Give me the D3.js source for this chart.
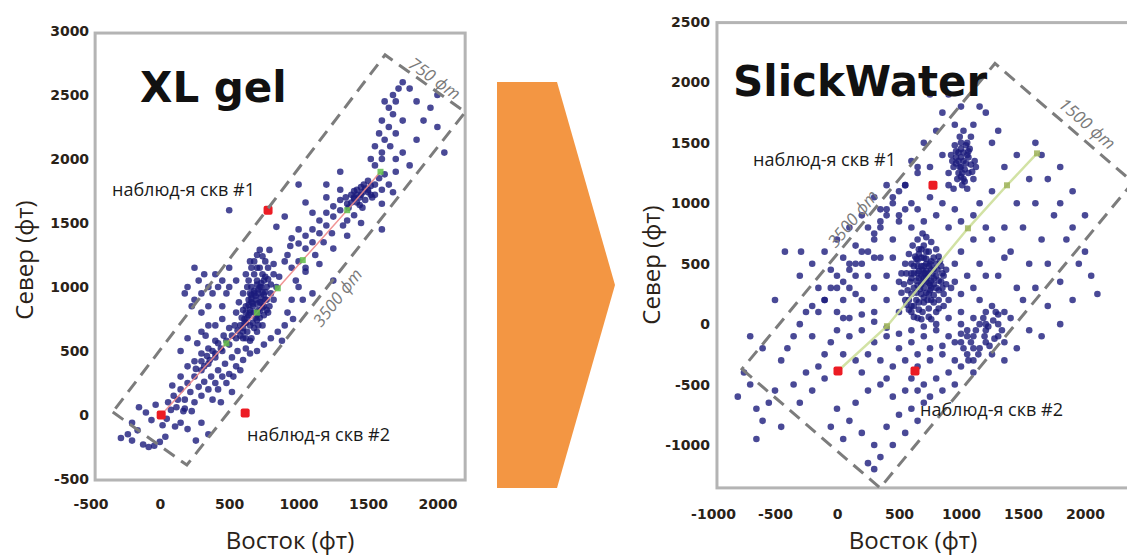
<!DOCTYPE html>
<html><head><meta charset="utf-8">
<script src="https://cdn.jsdelivr.net/npm/d3@7"></script>
<style>html,body{margin:0;padding:0;background:#fff;overflow:hidden}</style>
</head><body><svg id="c" width="1127" height="555"></svg>
<script>
// ---------- data ----------
const xlTicksX = [-500, 0, 500, 1000, 1500, 2000];
const xlTicksY = [-500, 0, 500, 1000, 1500, 2000, 2500, 3000];
const swTicksX = [-1000, -500, 0, 500, 1000, 1500, 2000];
const swTicksY = [-1000, -500, 0, 500, 1000, 1500, 2000, 2500];

const xlEvents = [
[-280,-180],[-230,-150],[-200,-200],[-160,-120],[-120,-230],[-80,-250],[-40,-240],[0,-210],[40,-170],[-150,60],[-100,20],[-60,-40],[-30,80],[20,-80],[50,-30],[80,40],[110,-90],[150,-60],[170,30],[-200,-60],[130,120],[200,-110],[260,-200],[300,-60],[350,-150],
[100,150],[150,200],[180,120],[200,250],[220,180],[250,300],[280,220],[300,350],[320,260],[350,400],[370,300],[400,450],[420,350],[450,500],[470,400],[500,550],[520,450],[550,600],[560,500],[600,650],[150,300],[200,380],[250,420],[300,480],[350,520],[400,580],[120,60],[180,50],[250,100],[300,150],[350,200],[400,250],[450,300],[500,320],[550,380],[600,430],[620,520],[650,580],[380,120],[420,200],[480,250],[530,300],[580,350],[270,560],[330,620],[60,100],[90,230],[230,30],[440,100],[520,180],
[650,800],[670,850],[690,900],[710,950],[730,1000],[750,1050],[770,900],[790,850],[710,820],[730,880],[750,940],[770,1000],[690,760],[650,700],[630,650],[670,720],[710,700],[750,780],[800,950],[820,1100],[780,1150],[740,1100],[700,1050],[660,1000],[640,900],[620,850],[610,750],[600,680],[580,620],[620,600],[660,600],[700,650],[740,700],[780,800],[820,900],[840,1000],[860,1080],[820,1180],[760,1200],[720,1150],[680,1100],[640,1050],[600,950],[570,880],[680,950],[720,1000],[750,850],[770,820],[700,780],[730,920],[640,780],[660,880],[700,870],[740,960],[680,680],[720,760],[760,1080],[800,1020],[620,720],[660,940],
[610,720],[630,760],[650,820],[670,870],[690,930],[710,980],[730,1030],[620,800],[640,860],[660,910],[680,970],[700,1020],[720,880],[740,840],[760,900],[700,740],[680,800],[720,810],[650,950],[630,1000],[600,820],[590,760],[760,960],[780,1060],[700,1150],[740,1240],[680,1200],[660,1150],[790,1290],[720,1290],
[600,600],[580,700],[550,800],[620,1100],[650,1200],[700,1250],[900,1200],[950,1150],[980,1050],[950,900],[920,800],[900,700],[850,650],[800,600],[750,550],[700,500],[650,480],[1000,1000],[1030,900],[960,750],[880,580],[920,1250],[1000,1200],[940,1320],[1050,1150],
[250,900],[300,950],[350,1000],[280,1050],[320,1100],[380,950],[420,1000],[450,1050],[200,1000],[250,1150],[400,1100],[480,950],[350,850],[300,800],[450,850],[500,1000],[230,850],[180,950],[550,1050],[500,1150],[400,700],[300,650],[200,600],[450,750],[150,500],[350,700],
[320,380],[360,430],[400,480],[440,520],[480,580],[520,620],[560,660],[380,500],[420,560],[460,620],[500,680],[540,700],[340,460],[300,420],[260,360],
[1050,1300],[1100,1350],[1150,1420],[1200,1480],[1250,1550],[1300,1600],[1350,1650],[1400,1700],[1450,1720],[1500,1760],[1550,1800],[1420,1760],[1480,1680],[1520,1720],[1380,1720],[1450,1780],[1500,1830],[1550,1720],[1600,1760],[1350,1520],[1300,1680],[1250,1630],[1200,1580],[1150,1520],[1100,1450],[1050,1400],[1000,1340],[1120,1250],[1180,1350],[1240,1420],[1320,1480],[1400,1560],[1460,1620],[1580,1850],[1620,1880],[1250,1300],[1350,1400],[1000,1450],[1100,1580],[950,1380],[1050,1120],[1150,1180],[1200,1700],[1300,1760],[1600,1650],[1680,1740],[1450,1500],
[1380,1660],[1400,1690],[1420,1720],[1440,1700],[1460,1740],[1480,1770],[1500,1740],[1520,1790],[1470,1800],[1420,1660],[1360,1620],[1530,1700],[1400,1750],[1340,1700],[1440,1640],
[1550,1950],[1600,2050],[1620,2150],[1650,2250],[1680,2350],[1700,2450],[1720,2550],[1750,2600],[1600,2300],[1580,2200],[1550,2100],[1650,2400],[1700,2200],[1750,2300],[1680,2500],[1620,2450],[1800,2550],[1520,2000],[1600,2000],[1660,2100],[1850,2450],[1900,2300],[1950,2400],[2000,2250],[1850,2150],[1750,2050],[1800,1950],[1700,1900],[1650,1800],[2050,2050],
[500,1600],[1000,1800],[900,1550],[1200,1800],[1250,1050],[1100,950],[1600,1450],[1700,2000],[2000,2500],[1300,1900],[1050,1660],[840,1470]
];

const swEvents = [
[700,300],[720,350],[680,250],[650,320],[750,280],[730,400],[690,450],[660,380],[620,300],[600,250],[640,200],[700,180],[760,200],[800,300],[780,380],[760,450],[720,500],[680,550],[650,480],[620,420],[590,350],[570,280],[600,150],[660,120],[740,130],[820,200],[840,350],[810,450],[780,550],[740,600],[700,650],[660,620],[630,560],[600,500],[560,420],[540,330],[700,380],[720,260],[680,330],[740,340],[710,420],[670,290],[760,360],[640,260],[780,240],[820,280],[860,250],[880,330],[850,420],[830,520],[800,620],[760,680],[720,720],[690,750],[650,700],[610,650],[580,580],[550,500],[520,420],[500,350],[520,260],[550,200],[580,120],[620,60],[680,40],[740,60],[800,100],[860,150],[900,200],[920,300],[700,550],[750,500],[650,420],[600,380],[720,600],[770,420],[730,200],[690,100],[650,50],[760,40],
[600,420],[620,480],[640,540],[660,580],[680,620],[700,480],[720,440],[740,480],[760,520],[780,460],[800,400],[820,360],[640,360],[660,440],[680,400],[700,420],[720,380],[740,420],[760,300],[780,330],[800,500],[820,560],[840,480],[860,400],[880,450],[580,200],[620,150],[660,180],[700,220],[740,250],[780,180],[820,130],[560,160],[600,100],[850,300],[680,480],[720,540],[650,530],[690,350],[750,320],
[1000,1300],[980,1250],[1020,1350],[1050,1400],[1000,1450],[960,1380],[940,1300],[970,1200],[1020,1200],[1060,1250],[1080,1320],[1040,1480],[990,1550],[950,1480],[920,1400],[900,1250],[1010,1150],[1050,1120],[1100,1200],[1120,1300],[980,1350],[1030,1280],[1000,1220],[960,1430],[1060,1430],[900,1150],[940,1120],[1080,1550],[1020,1600],[950,1650],
[1000,1380],[1020,1420],[990,1300],[1040,1330],[1060,1380],[1070,1450],[1010,1250],[960,1330],[1030,1180],[1090,1260],[1000,1500],[980,1420],[1050,1500],[1110,1350],[930,1350],
[100,-100],[200,-50],[300,-150],[400,-100],[500,-200],[600,-150],[700,-100],[800,-50],[900,-100],[1000,-150],[1100,-100],[1200,-50],[1300,-100],[1000,0],[1100,50],[1200,100],[1150,-200],[1050,-250],[950,-300],[850,-250],[750,-300],[650,-350],[550,-300],[450,-350],[350,-300],[250,-250],[150,-300],[50,-250],[200,-400],[400,-450],[600,-450],[700,-500],[800,-450],[900,-400],[1000,-350],[1100,-300],[1250,-250],[1300,0],[1350,100],[1400,50],[1250,150],[1150,200],[1000,100],[900,50],[800,0],[700,-20],[600,-50],[500,-80],[400,-30],[300,20],[200,80],[100,50],[0,-50],[-50,-150],[-100,-250],[1200,-150],[1100,-400],[950,-500],[850,-550],[750,-600],[650,-550],[550,-550],[450,-600],[350,-500],[250,-550],[1050,-50],[950,-150],[850,-180],[750,-200],[650,-250],
[1050,-100],[1080,-150],[1120,-50],[1150,0],[1180,50],[1220,-20],[1260,30],[1300,80],[1330,-50],[1270,-120],[1230,-180],[1190,-100],[1140,-250],[1100,-200],[1060,-300],[1020,-200],[1000,-80],[1200,0],[1350,-150],[1280,100],
[0,100],[50,200],[100,300],[150,400],[200,500],[250,600],[300,700],[350,800],[400,900],[450,1000],[100,500],[0,400],[-50,300],[-100,200],[-150,100],[200,200],[300,300],[400,400],[450,550],[350,550],[250,400],[150,250],[50,50],[300,100],[400,200],[500,100],[450,700],[350,950],[500,850],[550,950],[600,1000],[500,1100],[400,1150],[300,1050],[200,900],[100,800],[0,700],[-100,600],[-200,500],[-300,400],
[-150,300],[-50,450],[50,550],[150,650],[250,800],[100,450],[200,600],[300,750],[0,300],[-100,200],[350,850],[450,1050],[550,1150],[650,1300],[400,950],[500,900],[-200,150],[50,350],[150,500],[300,550],
[-750,-400],[-700,-500],[-650,-700],[-600,-800],[-550,-650],[-500,-550],[-450,-300],[-400,-200],[-350,-100],[-300,0],[-250,100],[-200,-100],[-150,-350],[-250,-400],[-350,-500],[-450,-850],[-300,-650],[-200,-550],[-100,-450],[-420,600],[-290,600],[-500,200],[-600,-200],[-700,-100],[-800,-600],[-650,-950],
[0,-700],[100,-800],[200,-900],[300,-1000],[350,-1100],[250,-1150],[400,-850],[500,-750],[600,-700],[700,-650],[150,-650],[50,-950],[450,-1000],[550,-900],[300,-1200],[650,-800],[-50,-850],
[1300,400],[1400,600],[1500,800],[1600,1000],[1700,1200],[1800,1000],[1900,800],[2000,600],[1450,300],[1550,500],[1650,700],[1750,900],[1850,700],[1950,500],[2050,400],[1350,800],[1450,1000],[1550,1200],[1650,1400],[1250,1100],[1350,1300],[1450,1400],[1250,700],[1350,550],[1200,400],[1500,200],[1600,300],[1700,150],[1800,350],[1900,200],[2100,250],[1550,-50],[1450,-200],[1650,-100],[1800,0],[1350,-300],[1700,500],[1900,1100],[2000,900],[1800,1300],[1600,1500],[1100,1650],[1200,1750],[1300,1600],[1150,1800],[850,1750],[750,1900],[900,1900],[1000,1800],[1250,1500],
[600,800],[700,850],[800,900],[650,950],[750,1050],[850,1000],[550,1150],[650,1250],[750,1300],[850,1400],[700,1500],[800,1600],[600,1350],[900,800],[950,950],[1000,850],[1100,900],[1150,1000],[1200,800],[1100,700],[1000,600],[950,500],[1050,400],[1150,500],[1100,300],[1000,250],[950,350]
];

const xlWells = [[780, 1600], [10, 0], [615, 15]];
const swWells = [[774, 1149], [8, -388], [629, -388]];
const xlStages = [[10, 0], [480, 560], [700, 800], [850, 990], [1030, 1210], [1350, 1600], [1590, 1900]];
const swStages = [[8, -388], [403, -17], [1056, 793], [1371, 1149], [1613, 1413]];
const xlBox = [[-339, 23], [195, -391], [2201, 2367], [1623, 2813]];
const swBox = [[-766, -372], [347, -1355], [2387, 1174], [1274, 2157]];

// ---------- drawing ----------
const svg = d3.select("#c");
svg.append("rect").attr("width", 1127).attr("height", 555).attr("fill", "#fff");

function panel(cfg) {
  const x = d3.scaleLinear().domain(cfg.xDom).range(cfg.xRng);
  const y = d3.scaleLinear().domain(cfg.yDom).range(cfg.yRng);
  const g = svg.append("g");
  const [fx0, fx1] = cfg.frameX, [fy0, fy1] = cfg.frameY;

  g.append("rect").attr("x", x(fx0)).attr("y", y(fy1))
    .attr("width", x(fx1) - x(fx0)).attr("height", y(fy0) - y(fy1))
    .attr("fill", "none").attr("stroke", "#b4b4b4").attr("stroke-width", 3);

  const ya = g.append("g").attr("transform", `translate(${x(fx0)},0)`)
    .call(d3.axisLeft(y).tickValues(cfg.ticksY).tickSize(0).tickPadding(cfg.padY));
  const xa = g.append("g").attr("transform", `translate(0,${y(fy0)})`)
    .call(d3.axisBottom(x).tickValues(cfg.ticksX).tickSize(0).tickPadding(cfg.padX));
  [ya, xa].forEach(a => {
    a.select(".domain").remove();
    a.selectAll("text").attr("font-family", "DejaVu Sans").attr("font-weight", "bold")
      .attr("font-size", 14).attr("fill", "#2a2218")
      .text(d => d < 0 ? "-" + Math.abs(d) : String(d));
  });

  g.append("g").selectAll("circle").data(cfg.events).join("circle")
    .attr("cx", d => x(d[0])).attr("cy", d => y(d[1])).attr("r", 3.3)
    .attr("fill", "#1b1b7c").attr("fill-opacity", 0.8);

  g.append("path").datum(cfg.stages)
    .attr("d", d3.line().x(d => x(d[0])).y(d => y(d[1])))
    .attr("fill", "none").attr("stroke", cfg.pathColor).attr("stroke-width", cfg.pathWidth).attr("opacity", 0.9);
  g.append("g").selectAll("rect").data(cfg.stages.slice(1)).join("rect")
    .attr("x", d => x(d[0]) - 3).attr("y", d => y(d[1]) - 3).attr("width", 6).attr("height", 6)
    .attr("fill", cfg.stageColor).attr("opacity", 0.85);

  g.append("g").selectAll("rect").data(cfg.wells).join("rect")
    .attr("x", d => x(d[0]) - 4.5).attr("y", d => y(d[1]) - 4.5).attr("width", 9).attr("height", 9)
    .attr("rx", 2).attr("fill", "#ec1c24");

  g.append("path").datum(cfg.box)
    .attr("d", d3.line().x(d => x(d[0])).y(d => y(d[1])).curve(d3.curveLinearClosed))
    .attr("fill", "none").attr("stroke", "#7c7c7c").attr("stroke-width", 3)
    .attr("stroke-dasharray", "13,8");

  cfg.edgeLabels.forEach(L => {
    const p1 = [x(cfg.box[L.a][0]), y(cfg.box[L.a][1])];
    const p2 = [x(cfg.box[L.b][0]), y(cfg.box[L.b][1])];
    const dx = p2[0] - p1[0], dy = p2[1] - p1[1], len = Math.hypot(dx, dy);
    const nx = dy / len, ny = -dx / len;
    const px = p1[0] + L.t * dx + L.off * nx, py = p1[1] + L.t * dy + L.off * ny;
    const ang = Math.atan2(dy, dx) * 180 / Math.PI;
    g.append("text").attr("transform", `translate(${px},${py}) rotate(${ang})`)
      .attr("text-anchor", "middle").attr("dominant-baseline", "central")
      .attr("font-family", "Open Sans").attr("font-style", "italic").attr("font-size", 17)
      .attr("fill", "#7a7a7a").text(L.text);
  });

  g.append("text").attr("x", cfg.title.x).attr("y", cfg.title.y)
    .attr("font-family", "DejaVu Sans").attr("font-weight", "bold").attr("font-size", cfg.title.size)
    .attr("fill", "#111").text(cfg.title.text);

  cfg.notes.forEach(n => {
    g.append("text").attr("x", n.x).attr("y", n.y)
      .attr("font-family", "Open Sans").attr("font-size", 18).attr("fill", "#1a1a1a").text(n.text);
  });

  g.append("text").attr("x", cfg.xTitle[0]).attr("y", cfg.xTitle[1]).attr("text-anchor", "middle")
    .attr("font-family", "Open Sans").attr("font-size", 24).attr("fill", "#2a2218").text("Восток (фт)");
  g.append("text").attr("transform", `translate(${cfg.yTitle[0]},${cfg.yTitle[1]}) rotate(-90)`)
    .attr("text-anchor", "middle")
    .attr("font-family", "Open Sans").attr("font-size", 24).attr("fill", "#2a2218").text("Север (фт)");
}

panel({
  xDom: [-500, 2000], xRng: [90.4, 437.4], yDom: [-500, 3000], yRng: [479, 31],
  frameX: [-466, 2200], frameY: [-508, 2984],
  ticksX: xlTicksX, ticksY: xlTicksY, padX: 19, padY: 6,
  events: xlEvents, stages: xlStages, wells: xlWells, box: xlBox,
  pathColor: "#f08a8a", pathWidth: 1.5, stageColor: "#5fbf4a",
  edgeLabels: [{a: 3, b: 2, t: 0.55, off: 10, text: "750 фт"}, {a: 1, b: 2, t: 0.5, off: -14, text: "3500 фт"}],
  title: {x: 140, y: 102, size: 42, text: "XL gel"},
  notes: [{x: 112, y: 196, text: "наблюд-я скв #1"}, {x: 247, y: 441, text: "наблюд-я скв #2"}],
  xTitle: [290, 549], yTitle: [33, 260]
});

panel({
  xDom: [-1000, 2000], xRng: [713, 1085], yDom: [-1000, 2500], yRng: [445, 22],
  frameX: [-968, 2400], frameY: [-1355, 2495],
  ticksX: swTicksX, ticksY: swTicksY, padX: 21, padY: 7,
  events: swEvents, stages: swStages, wells: swWells, box: swBox,
  pathColor: "#cddf9a", pathWidth: 2.5, stageColor: "#9fb35a",
  edgeLabels: [{a: 3, b: 2, t: 0.6, off: 15, text: "1500 фт"}, {a: 0, b: 3, t: 0.47, off: 11, text: "3500 фт"}],
  title: {x: 733, y: 96, size: 42, text: "SlickWater"},
  notes: [{x: 753, y: 166, text: "наблюд-я скв #1"}, {x: 920, y: 416, text: "наблюд-я скв #2"}],
  xTitle: [913, 549], yTitle: [660, 265]
});

const arrowPts = [[497, 82], [557, 82], [615, 285], [557, 488], [497, 488]];
svg.append("polygon").attr("points", arrowPts.map(p => p.join(",")).join(" ")).attr("fill", "#f39643");
</script></body></html>
